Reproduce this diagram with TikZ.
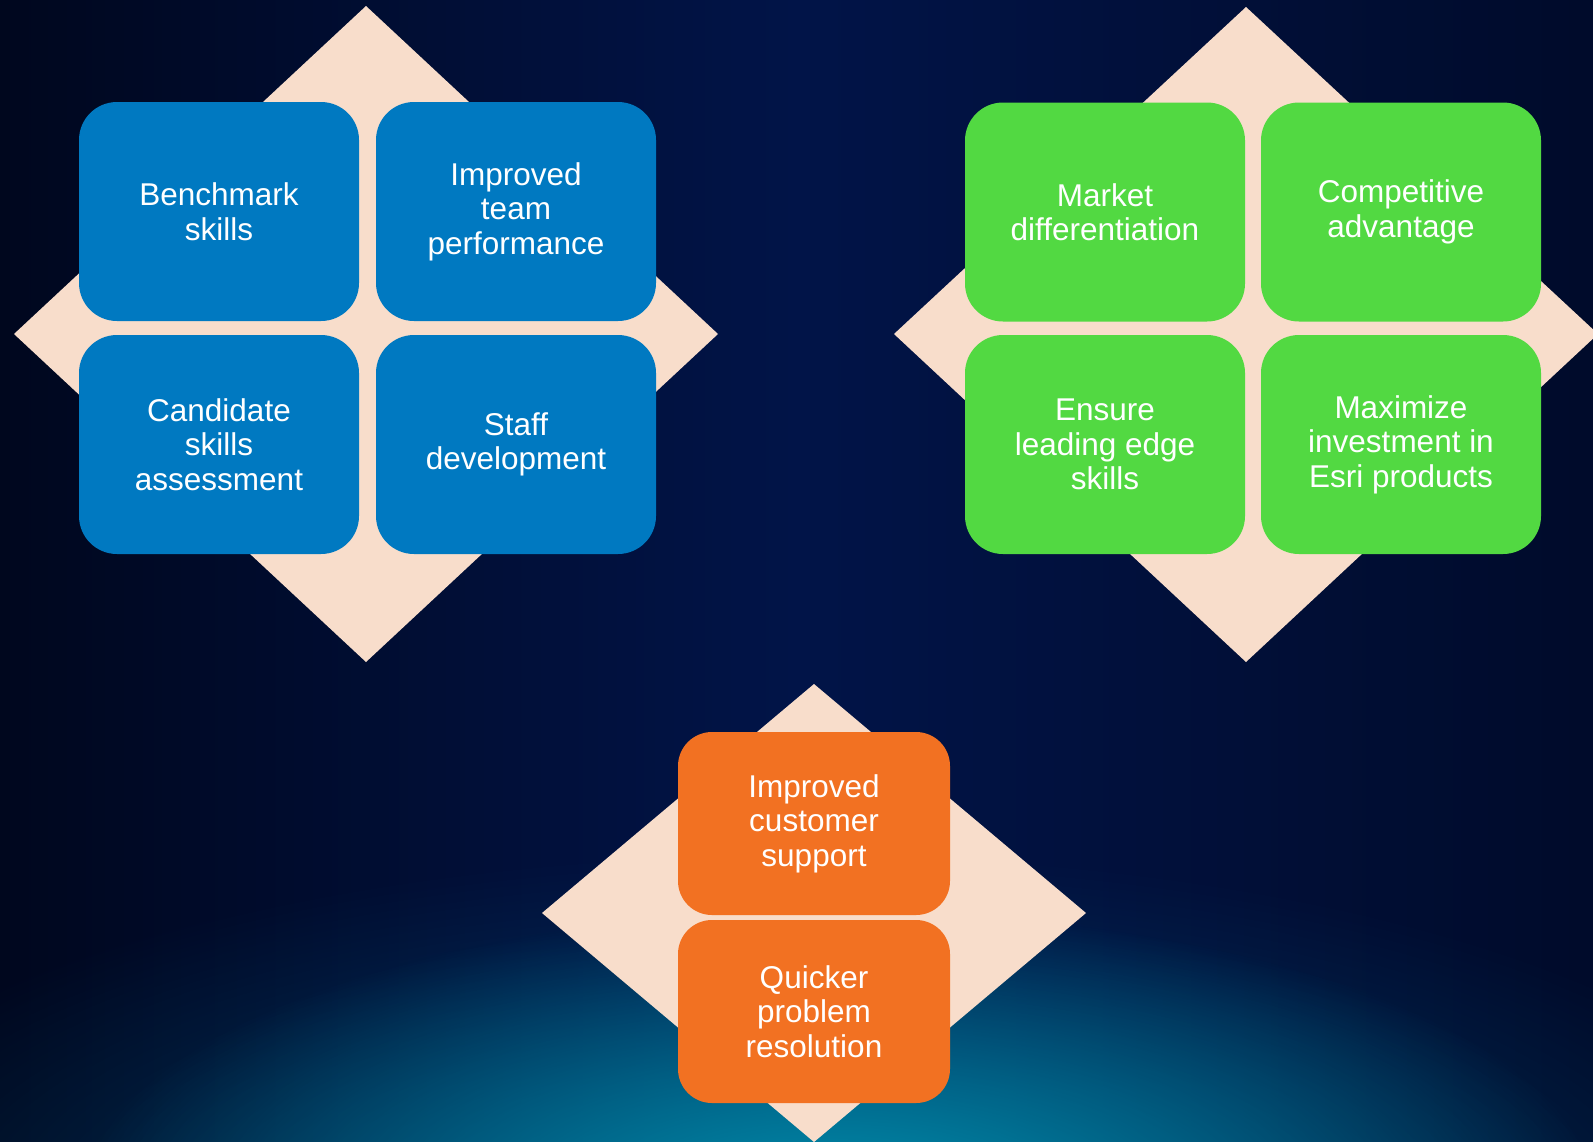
\documentclass[tikz,border=0pt]{standalone}
\usepackage{fontspec}
\setmainfont{Liberation Sans}
\usetikzlibrary{fadings}
\definecolor{bgnavy}{RGB}{1,20,72}
\definecolor{bgdark}{RGB}{0,7,30}
\definecolor{glow}{RGB}{0,140,170}
\definecolor{peach}{RGB}{248,221,203}
\definecolor{boxblue}{RGB}{0,121,193}
\definecolor{boxgreen}{RGB}{82,217,66}
\definecolor{boxorange}{RGB}{242,113,34}
\tikzfading[name=glowfade, inner color=transparent!0, outer color=transparent!100]
\tikzset{
  card/.style={rounded corners=38pt, minimum width=280pt, minimum height=219pt,
    inner sep=0pt, align=center, text=white, font=\fontsize{31.5}{34.5}\selectfont},
  bluecard/.style={card, fill=boxblue},
  greencard/.style={card, fill=boxgreen},
  orangecard/.style={card, fill=boxorange, minimum width=272pt, minimum height=183pt, rounded corners=34pt},
  diamondfill/.style={fill=peach}
}
\begin{document}
\begin{tikzpicture}[x=1pt,y=-1pt]
\useasboundingbox (0,0) rectangle (1593,1141);
\clip (0,0) rectangle (1593,1141);
% background
\shade[left color=bgdark, right color=bgdark!70!bgnavy, middle color=bgnavy] (0,0) rectangle (1593,1141);
\fill[glow!55!bgnavy, path fading=glowfade, opacity=0.7] (800,1230) ellipse (1050 and 380);
\fill[glow, path fading=glowfade] (840,1200) ellipse (760 and 290);
% diamonds
\fill[diamondfill] (366,6) -- (718,334) -- (366,662) -- (14,334) -- cycle;
\fill[diamondfill] (1246,7) -- (1598,334) -- (1246,662) -- (894,334) -- cycle;
\fill[diamondfill] (814,684) -- (1086,913) -- (814,1142) -- (542,913) -- cycle;
% left group
\node[bluecard] (b1) at (219,211.5) {Benchmark\\skills};
\node[bluecard] (b2) at (516,211.5) {Improved\\team\\performance};
\node[bluecard] (b3) at (219,444.5) {Candidate\\skills\\assessment};
\node[bluecard] (b4) at (516,444.5) {Staff\\development};
% right group
\node[greencard] (g1) at (1105,212) {Market\\differentiation};
\node[greencard] (g2) at (1401,212) {Competitive\\advantage};
\node[greencard] (g3) at (1105,444.5) {Ensure\\leading edge\\skills};
\node[greencard] (g4) at (1401,444.5) {Maximize\\investment in\\Esri products};
% bottom group
\node[orangecard] (o1) at (814,823.5) {Improved\\customer\\support};
\node[orangecard] (o2) at (814,1011.5) {Quicker\\problem\\resolution};
\end{tikzpicture}
\end{document}
